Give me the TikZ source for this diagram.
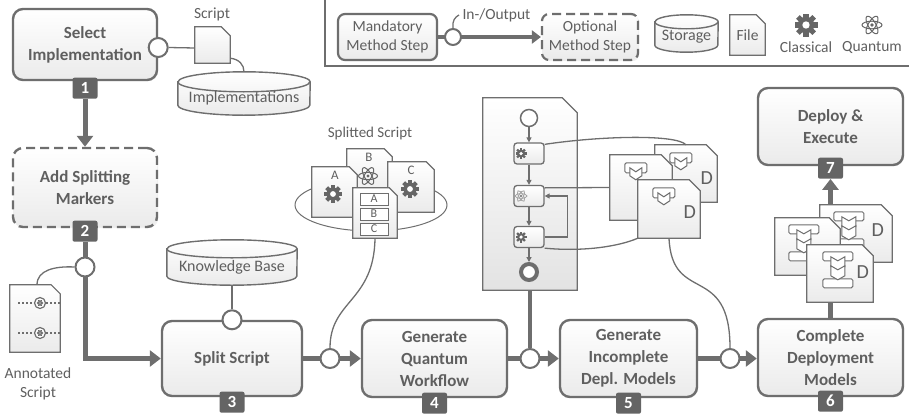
\documentclass[tikz,border=0pt]{standalone}
\usepackage{fontspec}
\setmainfont{Carlito}
\usetikzlibrary{arrows.meta,positioning,backgrounds,shadows}

\definecolor{ln}{HTML}{6E6E6E}
\definecolor{txt}{HTML}{5F5F5F}
\definecolor{badge}{HTML}{646464}
\definecolor{icon}{HTML}{666666}

% sheet with a cut corner around a node
\newcommand\docpath[2]{(#1.south west) -- (#1.north west) -- ([xshift=-#2]#1.north east) -- ([yshift=-#2]#1.north east) -- (#1.south east) -- cycle}
% storage drum behind a node: node north = centre of the lid
\newcommand\drum[3]{%
  \begin{scope}[on background layer]
    \draw[drumline, top color=white, bottom color=black!8] (#1.north west) -- ([yshift=#3]#1.south west)
      arc[start angle=180, end angle=360, x radius=#2, y radius=#3]
      -- (#1.north east)
      arc[start angle=0, end angle=180, x radius=#2, y radius=#3] -- cycle;
    \draw[drumline] (#1.north west) arc[start angle=180, end angle=360, x radius=#2, y radius=#3];
  \end{scope}}

\tikzset{
  atomline/.style={draw=icon, line width=1pt},
  gear/.pic={
    \fill[icon] (0,0) circle (7.2);
    \foreach \a in {0,45,...,315}
      \fill[icon, rotate=\a] (-2.2,5) rectangle (2.2,10);
    \fill[white] (0,0) circle (3.2);
  },
  atom/.pic={
    \foreach \a in {0,60,120}
      \draw[atomline, rotate=\a] (0,0) ellipse [x radius=10, y radius=3.8];
    \fill[icon] (0,0) circle (1.8);
  },
  dpart/.pic={
    \draw[ln, line width=1pt, fill=white, rounded corners=1.5pt] (-11,-5) rectangle (11,5);
    \draw[ln, line width=1pt, fill=white] (-6,0) -- (0,4) -- (6,0) -- (6,8) -- (0,12) -- (-6,8) -- cycle;
  },
  dfull/.pic={
    \draw[ln, line width=1pt, fill=white, rounded corners=1.5pt] (-15,-18) rectangle (15,-9);
    \draw[ln, line width=1pt, fill=white, rounded corners=1.5pt] (-15,9) rectangle (15,18);
    \draw[ln, line width=1pt, fill=white] (-7,-13) -- (0,-9) -- (7,-13) -- (7,-3) -- (0,1) -- (-7,-3) -- cycle;
    \draw[ln, line width=1pt, fill=white] (-7,-4) -- (0,0) -- (7,-4) -- (7,6) -- (0,10) -- (-7,6) -- cycle;
  }
}

\begin{document}
\begin{tikzpicture}[x=1pt, y=-1pt,
    method/.style={draw=ln, line width=2.4pt, rounded corners=10pt, top color=white, bottom color=black!8,
      text=txt, align=center, inner sep=0pt, font=\fontsize{17}{22}\selectfont\bfseries,
      drop shadow={shadow xshift=1.2pt, shadow yshift=-1.2pt, opacity=.12}},
    optional/.style={method, dash pattern=on 9pt off 5pt},
    keyfont/.style={font=\fontsize{15.5}{19}\selectfont, line width=2.2pt, rounded corners=7pt},
    num/.style={fill=badge, text=white, font=\fontsize{17}{17}\selectfont\bfseries, minimum width=25pt,
      minimum height=21pt, inner sep=0pt, rounded corners=2pt},
    port/.style={circle, draw=ln, line width=2pt, fill=white, minimum size=19pt, inner sep=0pt},
    flow/.style={draw=ln, line width=5pt, -{Triangle[length=11pt, width=16pt]}},
    link/.style={draw=ln, line width=1.3pt},
    sheet/.style={draw=ln, line width=1.2pt, top color=white, bottom color=black!8},
    drumline/.style={draw=ln, line width=1.4pt},
    store/.style={text=txt, font=\fontsize{16}{18}\selectfont, inner sep=0pt},
    caption/.style={text=txt, font=\fontsize{15.5}{19}\selectfont, align=center},
    blank/.style={inner sep=0pt},
    task/.style={draw=ln, line width=1.3pt, rounded corners=3pt, minimum width=30pt, minimum height=21pt,
      top color=white, bottom color=black!8},
    wfarrow/.style={draw=ln, line width=1.5pt, -{Triangle[length=5pt, width=5pt]}}
  ]
  \useasboundingbox (0,0) rectangle (909,415);

  % key
  \draw[ln, line width=2pt] (325,0) |- (909,66);
  \node[method, keyfont, minimum width=99pt, minimum height=46pt] (mand) at (387.5,37) {Mandatory\\Method Step};
  \node[optional, keyfont, minimum width=96pt, minimum height=46pt] (opt) at (590,37) {Optional\\Method Step};
  \draw[flow, line width=4pt, -{Triangle[length=9pt, width=13pt]}] (mand) -- (opt);
  \node[port, minimum size=16pt] (lport) at (453,37) {};
  \node[caption, anchor=west] (io) at (459,15) {In-/Output};
  \draw[link] (lport.north) .. controls +(-1,-7) and +(-4,2) .. (io.west);
  \node[store, minimum width=63pt, minimum height=30pt] (lsto) at (686.5,37) {Storage};
  \drum{lsto}{31.5pt}{7pt}
  \node[caption, minimum width=35pt, minimum height=40pt, inner sep=0pt] (lfile) at (747.5,35) {File};
  \begin{scope}[on background layer]
    \filldraw[sheet] \docpath{lfile}{9pt};
  \end{scope}
  \pic[scale=1.15] at (806,25) {gear};
  \node[caption] (lcl) at (806,47) {Classical};
  \pic at (872,25) {atom};
  \node[caption] (lqu) at (872,47) {Quantum};

  % method steps
  \node[method, minimum width=144pt, minimum height=71pt] (sel) at (85,44.5) {Select\\Implementation};
  \node[optional, minimum width=144pt, minimum height=79pt] (mark) at (85,187.5) {Add Splitting\\Markers};
  \node[method, minimum width=140pt, minimum height=75pt] (split) at (232,358.5) {Split Script};
  \node[method, minimum width=145pt, minimum height=77pt] (gqw) at (434.5,358.5) {Generate\\Quantum\\Workflow};
  \node[method, minimum width=137pt, minimum height=77pt] (gidm) at (628.5,358.5) {Generate\\Incomplete\\Depl. Models};
  \node[method, minimum width=145pt, minimum height=77pt] (cdm) at (830.5,357.5) {Complete\\Deployment\\Models};
  \node[method, minimum width=145pt, minimum height=77pt] (dep) at (830.5,126.5) {Deploy \&\\Execute};

  \node[num] (n1) at ([yshift=-7pt]sel.south) {1};
  \node[num] (n2) at ([yshift=-3pt]mark.south) {2};
  \node[num] (n3) at ([yshift=-5pt]split.south) {3};
  \node[num] (n4) at ([yshift=-5pt]gqw.south) {4};
  \node[num] (n5) at ([yshift=-5pt]gidm.south) {5};
  \node[num] (n6) at ([yshift=-4pt]cdm.south) {6};
  \node[num] (n7) at ([yshift=-2pt]dep.south) {7};

  % main flow
  \draw[flow] (n1.south) -- (mark.north);
  \draw[flow] (n2.south) |- (split.west);
  \draw[flow] (split.east) -- (gqw.west);
  \draw[flow] (gqw.east) -- (gidm.west);
  \draw[flow] (gidm.east) -- (gidm.east -| cdm.west);

  \node[port] (p1) at ([yshift=-3pt]sel.east) {};
  \node[port] (p2) at (85,267) {};
  \node[port] (pk) at (split.north) {};
  \node[port] (p3) at (330,358.5) {};
  \node[port] (p4) at (530,358.5) {};
  \node[port] (p5) at (730,358.5) {};

  % script and implementations
  \node[blank, minimum width=35pt, minimum height=36pt] (scr) at (212.5,45) {};
  \filldraw[sheet] \docpath{scr}{9pt};
  \node[caption] (scrl) at (212,14) {Script};
  \draw[link] (p1.east) -- ([yshift=-3pt]scr.west);
  \node[store, minimum width=132pt, minimum height=33pt] (impl) at (244,98.5) {Implementations};
  \drum{impl}{66pt}{10pt}
  \draw[link] ([yshift=5pt]scr.south east) .. controls +(9,1) and +(0,-7) .. ([yshift=10pt]impl.north);

  % annotated script
  \node[blank, minimum width=50pt, minimum height=67pt] (ann) at (35,318.5) {};
  \filldraw[sheet] \docpath{ann}{9pt};
  \foreach \y in {303,333} {
    \draw[ln, line width=1.6pt, dash pattern=on 1.6pt off 2.4pt] (18,\y) -- (60,\y);
    \draw[ln, line width=1.2pt, fill=white] (40,\y) circle (5.5);
    \pic[scale=.3, atomline/.style={draw=icon, line width=.6pt}] at (40,\y) {atom};
  }
  \node[caption] (annl) at (38,384) {Annotated\\Script};
  \draw[link] (p2.west) .. controls (55,266) and (37,270) .. ([xshift=2pt]ann.north);

  % knowledge base
  \node[store, minimum width=130pt, minimum height=36pt] (kb) at (232,267) {Knowledge Base};
  \drum{kb}{65pt}{9pt}
  \draw[link] (kb.south) -- (pk.north);

  % splitted script
  \node[caption, font=\fontsize{15}{18}\selectfont] (sscl) at (370,133) {Splitted Script};
  \draw[ln, line width=1pt] (371,205) ellipse [x radius=76, y radius=26];
  \node[blank, minimum width=45pt, minimum height=51pt] (sb) at (369.5,174.5) {};
  \filldraw[sheet] \docpath{sb}{8pt};
  \node[text=txt, font=\fontsize{13}{13}\selectfont] (sbl) at (369,157) {B};
  \pic[scale=.95] at (368,176) {atom};
  \node[blank, minimum width=45pt, minimum height=50pt] (sa) at (334.5,192) {};
  \filldraw[sheet] \docpath{sa}{8pt};
  \node[text=txt, font=\fontsize{13}{13}\selectfont] (sal) at (335,175) {A};
  \pic[scale=.9] at (333,194) {gear};
  \node[blank, minimum width=46pt, minimum height=50pt] (sc) at (411,187) {};
  \filldraw[sheet] \docpath{sc}{8pt};
  \node[text=txt, font=\fontsize{13}{13}\selectfont] (scl) at (411,170) {C};
  \pic[scale=.9] at (410,189) {gear};
  \node[blank, minimum width=44pt, minimum height=50pt] (stack) at (375,213) {};
  \filldraw[sheet] \docpath{stack}{8pt};
  \foreach \c/\y in {A/199,B/214,C/229}
    \node[draw=ln, line width=1pt, fill=white, text=txt, font=\fontsize{12}{12}\selectfont,
      minimum width=28pt, minimum height=12pt, inner sep=0pt] (cell\c) at (374,\y) {\c};
  \draw[link] (p3.north) .. controls (330,300) and (374,302) .. (stack.south);

  % quantum workflow
  \node[blank, minimum width=94pt, minimum height=192pt] (wf) at (530,194) {};
  \filldraw[sheet, bottom color=black!11] \docpath{wf}{15pt};
  \node[circle, draw=ln, line width=1.5pt, fill=white, minimum size=17pt, inner sep=0pt] (ws) at (529,118) {};
  \node[task] (t1) at (529,153.5) {};
  \node[task] (t2) at (529,196) {};
  \node[task] (t3) at (529,237) {};
  \node[circle, draw=ln, line width=4pt, fill=white, minimum size=16pt, inner sep=0pt] (we) at (529,272) {};
  \pic[scale=.55] at ([xshift=-8pt]t1.center) {gear};
  \pic[scale=.6, atomline/.style={draw=icon!60, line width=.8pt}] at ([xshift=-8pt]t2.center) {atom};
  \pic[scale=.55] at ([xshift=-8pt]t3.center) {gear};
  \draw[wfarrow] (ws) -- (t1);
  \draw[wfarrow] (t1) -- (t2);
  \draw[wfarrow] (t2) -- (t3);
  \draw[wfarrow] (t3) -- (we);
  \draw[wfarrow] (t3.east) -- ++(23,0) |- (t2.east);
  \draw[ln, line width=3.5pt] (wf.south -| p4) -- (p4.north);

  % incomplete deployment models
  \node[blank, minimum width=62pt, minimum height=57pt] (part2) at (686,173.5) {};
  \filldraw[sheet] \docpath{part2}{11pt};
  \pic at ([shift={(26,13)}]part2.north west) {dpart};
  \node[text=txt, font=\fontsize{20}{20}\selectfont] (pd2) at ([shift={(52,33)}]part2.north west) {D};
  \node[blank, minimum width=62pt, minimum height=65pt] (part1) at (641,187.5) {};
  \filldraw[sheet] \docpath{part1}{11pt};
  \pic at ([shift={(26,13)}]part1.north west) {dpart};
  \node[blank, minimum width=62pt, minimum height=58pt] (part3) at (669,209) {};
  \filldraw[sheet] \docpath{part3}{11pt};
  \pic at ([shift={(26,13)}]part3.north west) {dpart};
  \node[text=txt, font=\fontsize{20}{20}\selectfont] (pd3) at ([shift={(52,32)}]part3.north west) {D};
  \draw[link] ([yshift=-2pt]t1.north east) .. controls (600,136) and (676,134) .. (part2.north);
  \draw[link] ([yshift=-3pt]t2.north east) -- (part1.west);
  \draw[link] (t3.south east) .. controls (585,252) and (620,246) .. (part3.south west);
  \draw[link] (part3.south) .. controls (672,305) and (730,262) .. (p5.north);

  % complete deployment models
  \node[blank, minimum width=72pt, minimum height=57pt] (full2) at (856,233.5) {};
  \filldraw[sheet] \docpath{full2}{11pt};
  \pic at ([shift={(29,25)}]full2.north west) {dfull};
  \node[text=txt, font=\fontsize{20}{20}\selectfont] (fd2) at ([shift={(58,25)}]full2.north west) {D};
  \node[blank, minimum width=65pt, minimum height=57pt] (full1) at (807.5,246.5) {};
  \filldraw[sheet] \docpath{full1}{11pt};
  \pic at ([shift={(29,25)}]full1.north west) {dfull};
  \node[blank, minimum width=66pt, minimum height=57pt] (full3) at (840,273.5) {};
  \filldraw[sheet] \docpath{full3}{11pt};
  \pic at ([shift={(31,25)}]full3.north west) {dfull};
  \node[text=txt, font=\fontsize{20}{20}\selectfont] (fd3) at ([shift={(56,27)}]full3.north west) {D};
  \draw[ln, line width=5pt] (cdm.north) -- (cdm.north |- full3.south);
  \draw[flow] (n7.south |- full2.north) -- (n7.south);
\end{tikzpicture}
\end{document}
